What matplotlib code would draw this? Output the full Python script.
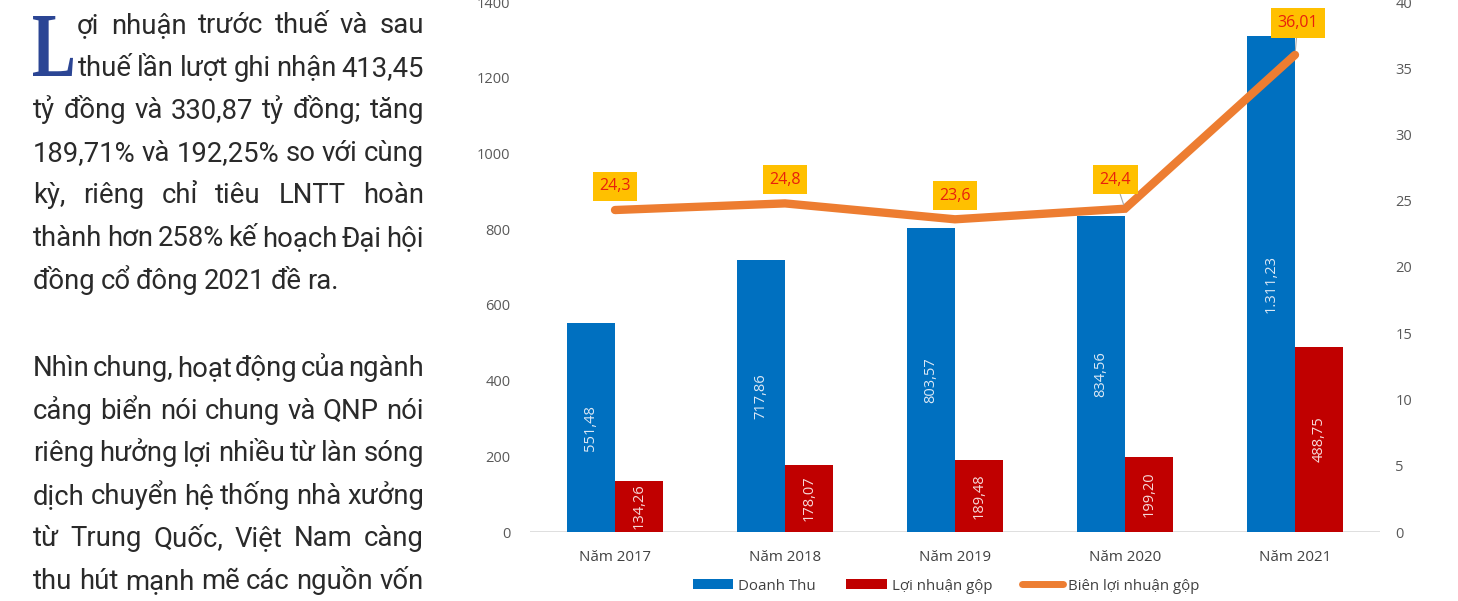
import matplotlib.pyplot as plt
from matplotlib.lines import Line2D
from matplotlib.patches import Patch, PathPatch
from matplotlib.textpath import TextPath
from matplotlib.font_manager import FontProperties
from matplotlib.transforms import Affine2D, IdentityTransform

W, H = 1458, 601

# --- article text -------------------------------------------------------
para1 = [
    "ợi nhuận trước thuế và sau",
    "thuế lần lượt ghi nhận 413,45",
    "tỷ đồng và 330,87 tỷ đồng; tăng",
    "189,71% và 192,25% so với cùng",
    "kỳ, riêng chỉ tiêu LNTT hoàn",
    "thành hơn 258% kế hoạch Đại hội",
    "đồng cổ đông 2021 đề ra.",
]
para2 = [
    "Nhìn chung, hoạt động của ngành",
    "cảng biển nói chung và QNP nói",
    "riêng hưởng lợi nhiều từ làn sóng",
    "dịch chuyển hệ thống nhà xưởng",
    "từ Trung Quốc, Việt Nam càng",
    "thu hút mạnh mẽ các nguồn vốn",
]

# --- chart data ---------------------------------------------------------
categories = ["Năm 2017", "Năm 2018", "Năm 2019", "Năm 2020", "Năm 2021"]
revenue = [551.48, 717.86, 803.57, 834.56, 1311.23]
gross_profit = [134.26, 178.07, 189.48, 199.20, 488.75]
margin = [24.3, 24.8, 23.6, 24.4, 36.01]
series_names = ["Doanh Thu", "Lợi nhuận gộp", "Biên lợi nhuận gộp"]

BLUE, RED, ORANGE = "#0070C0", "#C00000", "#ED7D31"
TXT = "#2a2a2a"
AX_TXT = "#595959"
CHART_FONT = ["Open Sans", "DejaVu Sans"]
BODY_FONT = ["Roboto", "DejaVu Sans"]
BODY_SIZE = 19.8

fig = plt.figure(figsize=(W / 100, H / 100), dpi=100)
renderer = fig.canvas.get_renderer()


def px(x, y):
    return x / W, 1 - y / H


def text_width(s):
    t = fig.text(0, 0, s, fontsize=BODY_SIZE, family=BODY_FONT)
    w = t.get_window_extent(renderer).width
    t.remove()
    return w


def justify(line, x0, x1, y, last=False):
    """Place words of one line so they fill x0..x1 (left aligned if last)."""
    words = line.split(" ")
    texts = [fig.text(*px(x0, y), w, fontsize=BODY_SIZE, family=BODY_FONT,
                      color=TXT, va="baseline", ha="left") for w in words]
    widths = [t.get_window_extent(renderer).width for t in texts]
    if last or len(words) == 1:
        gap = 0.75 * (text_width("a a") - text_width("aa"))
    else:
        gap = (x1 - x0 - sum(widths)) / (len(words) - 1)
    x = x0
    for t, w in zip(texts, widths):
        t.set_position(px(x, y))
        x += w + gap


step = 42.6
for i, line in enumerate(para1):
    x0 = 77 if i == 0 else (78 if i == 1 else 33)
    justify(line, x0, 424, 33 + i * step, last=(i == len(para1) - 1))
for i, line in enumerate(para2):
    justify(line, 33, 424, 376 + i * step)

# drop cap, a serif "L" squeezed into a 40x60 px box
cap = TextPath((0, 0), "L", size=100,
               prop=FontProperties(family="Liberation Serif", weight="bold"))
ext = cap.get_extents()
sx = 40 / ext.width
sy = 60 / ext.height
cap_tr = Affine2D().translate(-ext.x0, -ext.y0).scale(sx, sy).translate(33, H - 76)
fig.patches.append(PathPatch(cap_tr.transform_path(cap), transform=IdentityTransform(),
                             fc="#2B4594", ec="none", figure=fig))

# --- chart ----------------------------------------------------------------
ax = fig.add_axes([530 / W, 69 / H, 850 / W, 530 / H])
ax2 = ax.twinx()

xs = list(range(len(categories)))
bw = 0.285
ax.bar([x - bw / 2 for x in xs], revenue, width=bw, color=BLUE, zorder=2)
ax.bar([x + bw / 2 for x in xs], gross_profit, width=bw, color=RED, zorder=2)


def fmt_money(v):
    s = f"{v:,.2f}"
    return s.replace(",", "X").replace(".", ",").replace("X", ".")


for x, v in zip(xs, revenue):
    ax.text(x - bw / 2, v / 2, fmt_money(v), rotation=90, ha="center", va="center",
            fontsize=10.5, family=CHART_FONT, color="#DCE8F5", zorder=3)
for x, v in zip(xs, gross_profit):
    ax.text(x + bw / 2, v / 2, fmt_money(v), rotation=90, ha="center", va="center",
            fontsize=10.5, family=CHART_FONT, color="#F6DADA", zorder=3)

ax.set_xlim(-0.5, len(categories) - 0.5)
ax.set_ylim(0, 1400)
ax.set_yticks(range(0, 1401, 200))
ax2.set_ylim(0, 40)
ax2.set_yticks(range(0, 41, 5))

ax.set_xticks(xs)
ax.set_xticklabels(categories)
for a in (ax, ax2):
    for s in a.spines.values():
        s.set_visible(False)
    a.tick_params(length=0, labelsize=10.5, labelcolor=AX_TXT)
    for lab in a.get_yticklabels() + a.get_xticklabels():
        lab.set_family(CHART_FONT)
ax.tick_params(axis="y", pad=14)
ax2.tick_params(axis="y", pad=11)
ax.tick_params(axis="x", pad=13, labelcolor="#404040", labelsize=10.8)
ax.axhline(0, color="#D9D9D9", lw=1.2, zorder=1)
ax.patch.set_alpha(0)

ax2.plot(xs, margin, color=ORANGE, lw=6, solid_capstyle="round",
         solid_joinstyle="miter", zorder=4)

label_offsets = [(0, 17), (0, 17), (0, 17), (-7, 21), (2, 23)]
leaders = [False, False, False, True, True]
for x, v, (dx, dy), lead in zip(xs, margin, label_offsets, leaders):
    ax2.annotate(("%g" % v).replace(".", ","), (x, v), xytext=(dx, dy),
                 textcoords="offset points", ha="center", va="center",
                 fontsize=11.5, family=CHART_FONT, color="#E8200C",
                 bbox=dict(boxstyle="square,pad=0.42", fc="#FFC000", ec="none"),
                 arrowprops=dict(arrowstyle="-", color="#A6A6A6", lw=0.8,
                                 shrinkA=0, shrinkB=3) if lead else None,
                 zorder=5)

handles = [
    Patch(facecolor=BLUE, label=series_names[0]),
    Patch(facecolor=RED, label=series_names[1]),
    Line2D([], [], color=ORANGE, lw=5, solid_capstyle="round", label=series_names[2]),
]
leg = fig.legend(handles=handles, loc="center", bbox_to_anchor=(946 / W, 1 - 586 / H),
                 ncol=3, frameon=False, handlelength=2.7, handleheight=0.6,
                 handletextpad=0.35, columnspacing=2.0,
                 prop={"family": CHART_FONT, "size": 10.8})
for t in leg.get_texts():
    t.set_color("#404040")

fig.savefig("out.png", dpi=100)
